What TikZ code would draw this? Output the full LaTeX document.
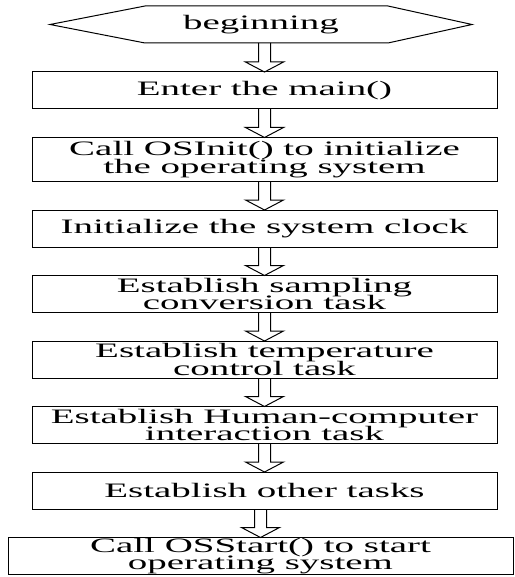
\documentclass[tikz,border=0pt]{standalone}
\usepackage{fontspec}
\setmainfont{Liberation Serif}[FakeStretch=1.9]
\usepackage{tikz}
\usetikzlibrary{positioning,calc}

\newcommand{\flowfont}{\fontsize{20.5pt}{17.5pt}\selectfont\lineskiplimit=-30pt\relax}

% hollow block arrow from the bottom of #1 to the top of #2
\newcommand{\blockarrow}[2]{%
  \draw[line width=1pt, line join=miter]
    ($(#2.north |- #1.south)+(-6pt,0)$) -- ($(#2.north)+(-6pt,10pt)$)
    -- ($(#2.north)+(-19pt,10pt)$) -- (#2.north)
    -- ($(#2.north)+(19pt,10pt)$) -- ($(#2.north)+(6pt,10pt)$)
    -- ($(#2.north |- #1.south)+(6pt,0)$);}

\begin{document}
\begin{tikzpicture}[node distance=28.5pt,
  every node/.style={font=\flowfont, outer sep=0pt},
  procbox/.style={draw, line width=1pt, minimum width=465pt, minimum height=37pt,
    inner xsep=2pt, inner ysep=0pt, align=center}]
  \useasboundingbox (0,0) rectangle (514pt,-577pt);

  \node[minimum width=422pt, minimum height=37pt, inner sep=0pt] (start) at (261pt,-24.5pt) {beginning};
  \draw[line width=1pt] (start.west) -- ([xshift=95pt]start.north west) -- ([xshift=-84pt]start.north east)
    -- (start.east) -- ([xshift=-84pt]start.south east) -- ([xshift=95pt]start.south west) -- cycle;

  \node[procbox, below=29pt of start, xshift=3.5pt] (entermain) {Enter the main()};
  \node[procbox, below=of entermain, minimum height=44pt] (osinit) {Call OSInit() to initialize\\the operating system};
  \node[procbox, below=of osinit] (clock) {Initialize the system clock};
  \node[procbox, below=of clock] (sampling) {Establish sampling\\conversion task};
  \node[procbox, below=of sampling] (tempctl) {Establish temperature\\control task};
  \node[procbox, below=of tempctl] (hci) {Establish Human-computer\\interaction task};
  \node[procbox, below=of hci] (others) {Establish other tasks};
  \node[procbox, below=of others, xshift=-4pt, minimum width=505pt] (osstart) {Call OSStart() to start\\operating system};

  \blockarrow{start}{entermain}
  \blockarrow{entermain}{osinit}
  \blockarrow{osinit}{clock}
  \blockarrow{clock}{sampling}
  \blockarrow{sampling}{tempctl}
  \blockarrow{tempctl}{hci}
  \blockarrow{hci}{others}
  \blockarrow{others}{osstart}
\end{tikzpicture}
\end{document}
